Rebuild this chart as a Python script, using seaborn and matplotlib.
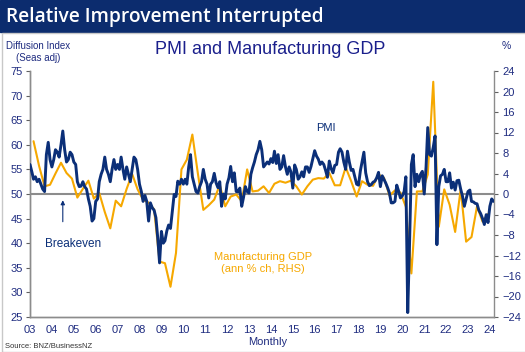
import matplotlib
matplotlib.use("Agg")
import matplotlib.pyplot as plt
import matplotlib.dates as mdates
from matplotlib.patches import Rectangle
import numpy as np
import pandas as pd
import seaborn as sns

# PMI, monthly from Jan 2003 (diffusion index, seas adj)
pmi = [
    56, 54.5, 53, 53.5, 52.5, 53, 52, 51, 50.5, 58, 60.5, 57,              # 2003
    55.5, 57, 59, 58.5, 57.5, 60, 62.8, 59, 56.5, 57, 58.5, 58,            # 2004
    56.5, 56, 52.5, 51.5, 51.6, 52.5, 51.5, 51, 49, 47.5, 44.5, 45,        # 2005
    48.5, 49, 52.5, 54, 55, 57.5, 55, 54, 52.5, 55, 57, 55,                # 2006
    56, 55, 57.5, 55, 53, 55.5, 54, 52.5, 55, 57.5, 57, 55,                # 2007
    52, 50.5, 48.5, 49.7, 48.5, 44.5, 48.2, 47.2, 46.7, 45.2, 41, 36,      # 2008
    42.4, 40, 40.5, 42.5, 43.7, 43, 46.5, 49.9, 49.5, 52.6, 52, 53,        # 2009
    52, 53, 52, 55.5, 58, 53.5, 52, 50.5, 50.2, 51.5, 52.5, 55,            # 2010
    53, 52, 49.2, 52, 52.5, 54.2, 52.3, 51.3, 52.5, 47.5, 50, 49,          # 2011
    52, 53.3, 55.6, 52.5, 54.3, 50.5, 50.5, 51.2, 47.5, 49.3, 51.5, 50.5,  # 2012
    50.2, 54, 55.3, 56.5, 58, 59, 60.7, 59, 55.5, 56, 56.5, 56.1,          # 2013
    57.2, 56.4, 58.7, 56.2, 58, 55, 55.5, 57.8, 55.5, 54, 55.5, 54.5,      # 2014
    51.2, 55.9, 55, 53, 53.5, 54.5, 53.5, 55.5, 55.5, 54.4, 55.6, 57.2,    # 2015
    58.8, 57.7, 57.1, 56, 56.5, 56, 54.8, 53.4, 56.7, 55.2, 54.3, 55.8,    # 2016
    56, 58.5, 59.2, 58.5, 56.5, 55, 58.7, 56.5, 54.8, 55, 53.5, 52,        # 2017
    51.8, 54.7, 56.5, 58.5, 54.3, 52.5, 51.7, 51.9, 52.4, 52.6, 53.3, 54.4,  # 2018
    51.5, 53.7, 53, 52.2, 51.3, 50.2, 48.2, 48.2, 48.5, 51.8, 50.6, 49.2,  # 2019
    49.6, 50.5, 53.5, 25.9, 39.7, 56, 58, 51.5, 54, 52.5, 54, 54.6,        # 2020
    50, 55.5, 63.5, 58, 57.7, 59.5, 61.8, 39.7, 51.5, 53.7, 54, 55,        # 2021
    52.5, 52.5, 54.3, 51.2, 52.4, 50.8, 52.7, 52.8, 51, 49.6, 47.5, 49,    # 2022
    50.5, 50.8, 48.5, 48.4, 48.1, 48, 46.7, 46, 45, 43.8, 45.8, 44.2,      # 2023
    47.5, 49, 48.5,                                                        # 2024
]

# Manufacturing GDP, annual % change, quarterly from Q1 2003
gdp = [
    10.3, 5.5, 1.5, 1.8,      # 2003
    4.0, 6.1, 4.1, 3.0,       # 2004
    -0.7, 1.0, 2.6, -0.9,     # 2005
    0.2, -3.5, -6.7, -1.3,    # 2006
    -2.4, 1.0, 3.9, 0.9,      # 2007
    -1.1, -1.7, -3.0, -13.2,  # 2008
    -13.5, -18.1, -11.5, 4.8, # 2009
    6.7, 11.6, 4.0, -3.1,     # 2010
    -2.2, -1.1, 1.8, -2.4,    # 2011
    -0.5, -0.1, -1.4, 4.8,    # 2012
    0.5, 0.65, 1.5, 0.2,      # 2013
    2.0, 2.5, 2.2, 2.6,       # 2014
    1.5, -0.1, 1.5, 2.8,      # 2015
    3.1, 3.0, 4.1, 1.7,       # 2016
    1.7, 5.2, 2.5, -0.5,      # 2017
    2.5, 1.8, 1.6, 3.8,       # 2018
    3.2, -0.3, 0.7, 0.3,      # 2019
    -2.5, -15.5, 0.5, 0.5,    # 2020
    3.8, 21.9, -6.4, 0.9,     # 2021
    -2.1, -7.4, 0.9, -9.3,    # 2022
    -8.4, -2.4, -5.4, -3.9,   # 2023
]

left_ticks = list(range(25, 80, 5))
right_ticks = list(range(-24, 28, 4))

NAVY = "#0b2f78"
ORANGE = "#f6a800"
TXT = "#1f2c80"

pmi_df = pd.DataFrame({"date": pd.date_range("2003-01-01", periods=len(pmi), freq="MS"), "pmi": pmi})
gdp_df = pd.DataFrame({"date": pd.date_range("2003-03-01", periods=len(gdp), freq="3MS"), "gdp": gdp})

sns.set_style("white")
plt.rcParams["font.family"] = ["Liberation Sans", "DejaVu Sans"]

fig = plt.figure(figsize=(5.25, 3.52), dpi=100)
ax = fig.add_axes([30 / 525, 1 - 317 / 352, 464 / 525, 246 / 352])
ax2 = ax.twinx()

# header band and frame
fig.patches.append(Rectangle((0, 1 - 32 / 352), 1, 32 / 352, transform=fig.transFigure,
                             color="#0c2c6e", zorder=0))
fig.patches.append(Rectangle((2 / 525, 0), 1, 1 - 33 / 352, transform=fig.transFigure,
                             fill=False, edgecolor="#c8c8c8", lw=1, zorder=0))
fig.text(6 / 525, 1 - 17 / 352, "Relative Improvement Interrupted", color="white",
         fontsize=13.8, fontweight="semibold", family=["Open Sans", "DejaVu Sans"], va="center")

ax.axhline(50, color="#8c8c8c", lw=1.5, zorder=1)
# gdp on the right-hand scale, pmi on the left
sns.lineplot(data=gdp_df, x="date", y="gdp", ax=ax2, color=ORANGE, lw=1.5)
sns.lineplot(data=pmi_df, x="date", y="pmi", ax=ax, color=NAVY, lw=2.1, zorder=3)
ax2.set_zorder(ax.get_zorder() + 1)
ax2.patch.set_visible(False)
# keep pmi visually on top: redraw pmi on ax2 via a transform of the left scale
ax.lines[-1].set_visible(False)
ax2.plot(pmi_df["date"], pmi_df["pmi"], color=NAVY, lw=2.1, transform=ax.transData, zorder=3)

ax.set_ylim(25, 75)
ax2.set_ylim(-24, 24)
ax.set_yticks(left_ticks)
ax2.set_yticks(right_ticks)
ax.set_xlim(pd.Timestamp("2003-01-01"), pd.Timestamp("2024-03-10"))
ax.xaxis.set_major_locator(mdates.YearLocator())
ax.xaxis.set_major_formatter(mdates.DateFormatter("%y"))

for a in (ax, ax2):
    a.set_xlabel("")
    a.set_ylabel("")
    for s in a.spines.values():
        s.set_color("#8c8c8c")
        s.set_linewidth(1.0)
    a.spines["top"].set_visible(False)
    a.tick_params(colors=TXT, labelsize=8, length=3, width=0.8, color="#606060")
ax.spines["right"].set_visible(False)
ax.tick_params(axis="x", pad=3)
ax.tick_params(axis="y", pad=2)
ax2.tick_params(axis="y", pad=3)

fig.text(38 / 525, 1 - 46 / 352, "Diffusion Index", color=TXT, fontsize=7, ha="center", va="center")
fig.text(38 / 525, 1 - 58 / 352, "(Seas adj)", color=TXT, fontsize=7, ha="center", va="center")
fig.text(270 / 525, 1 - 50 / 352, "PMI and Manufacturing GDP", color="#1a1f8c", fontsize=13,
         ha="center", va="center")
fig.text(506 / 525, 1 - 46 / 352, "%", color=TXT, fontsize=7.5, ha="center", va="center")
fig.text(268 / 525, 1 - 342 / 352, "Monthly", color=TXT, fontsize=8, ha="center", va="center")
fig.text(5 / 525, 1 - 346 / 352, "Source: BNZ/BusinessNZ", color="#333333", fontsize=5.5,
         ha="left", va="center")

ax.text(pd.Timestamp("2016-07-01"), 63.4, "PMI", color=NAVY, fontsize=8, ha="center", va="center")
ax.text(pd.Timestamp("2013-08-15"), 36, "Manufacturing GDP\n(ann % ch, RHS)", color=ORANGE,
        fontsize=8, ha="center", va="center", linespacing=1.2)
ax.text(pd.Timestamp("2004-12-15"), 39.8, "Breakeven", color=NAVY, fontsize=8.5, ha="center", va="center")
ax.annotate("", xy=(pd.Timestamp("2004-07-01"), 49.3), xytext=(pd.Timestamp("2004-07-01"), 43.8),
            arrowprops=dict(arrowstyle="-|>", color=NAVY, lw=0.8, mutation_scale=6))

fig.savefig("out.png", dpi=100)
